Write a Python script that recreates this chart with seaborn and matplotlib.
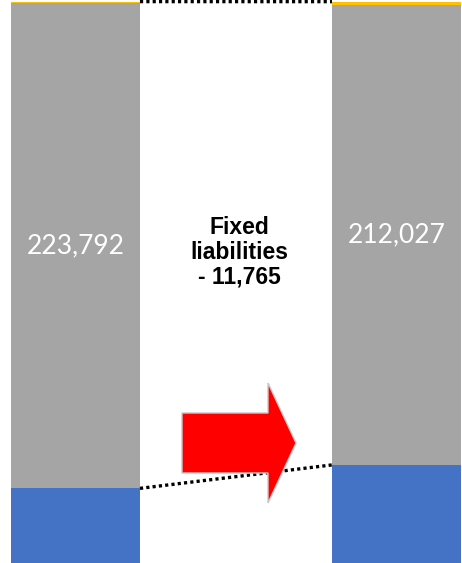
import matplotlib
matplotlib.use("Agg")
import matplotlib.pyplot as plt
import matplotlib.patches as mpatches
import numpy as np
import pandas as pd
import seaborn as sns

# Balance-sheet liabilities, two periods, stacked bottom to top
periods = ["Previous", "Current"]
current_liab = [40000, 50800]          # blue segment
fixed_liab = [223792, 212027]          # gray segment
other_liab = [460, 1400]               # orange segment
fixed_change = -11765

BLUE, GRAY, ORANGE, RED = "#4472C4", "#A5A5A5", "#FFC000", "#FF0000"

sns.set_theme(style="white")

fig = plt.figure(figsize=(4.62, 5.63), dpi=100)
ax = fig.add_axes([0, 0, 1, 1])

cur = np.array(current_liab, dtype=float)
fix = np.array(fixed_liab, dtype=float)
oth = np.array(other_liab, dtype=float)
df = pd.DataFrame({
    "period": periods,
    "top": cur + fix + oth,
    "mid": cur + fix,
    "base": cur,
})

bar_w = 0.402
for col, colr in [("top", ORANGE), ("mid", GRAY), ("base", BLUE)]:
    sns.barplot(data=df, x="period", y=col, color=colr, width=bar_w,
                saturation=1, linewidth=0, ax=ax)

# visible window: top of the stacks down to part of the blue segments
per_px = 460.7
y_top = df["top"].iloc[0] + 1.6 * per_px
y_bot = y_top - 563 * per_px
ax.set_ylim(y_bot, y_top)
ax.set_xlim(-0.235, 1.204)
ax.set_axis_off()

# dotted connectors between the bars
x_l, x_r = 0 + bar_w / 2, 1 - bar_w / 2
for key in ("top", "base"):
    ax.plot([x_l, x_r], df[key], color="black", lw=2.4,
            linestyle=(0, (0.95, 0.95)), solid_capstyle="butt",
            dash_capstyle="butt", zorder=3)

# values inside the gray segments
for i in range(2):
    ax.text(i, cur[i] + fix[i] / 2, f"{fixed_liab[i]:,}", color="white",
            ha="center", va="center", fontsize=19, family="Lato", zorder=4)

# change annotation
ax.text(0.519, 0.552, f"Fixed\nliabilities\n- {abs(fixed_change):,}",
        transform=ax.transAxes, ha="center", va="center", fontsize=16.5,
        fontweight="bold", family="Liberation Sans", linespacing=1.1,
        color="black", zorder=4)

# red block arrow
W, H = 462, 563
arrow = mpatches.FancyArrow(182 / W, 1 - 443 / H, (296 - 182) / W, 0,
                            width=60 / H, head_width=120 / H,
                            head_length=28 / W, length_includes_head=True,
                            transform=ax.transAxes, facecolor=RED,
                            edgecolor="#C8C8C8", linewidth=1, zorder=5)
ax.add_patch(arrow)

fig.savefig("out.png", dpi=100)
